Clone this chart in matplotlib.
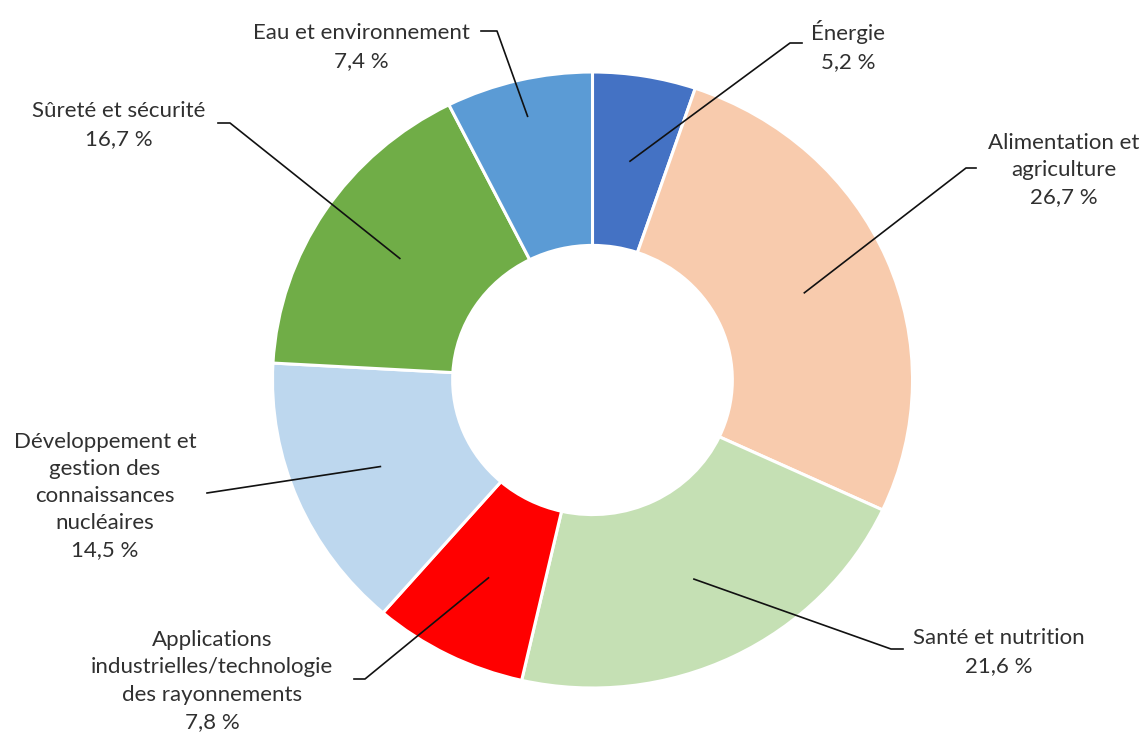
import matplotlib.pyplot as plt
import numpy as np

# données
categories = ["Énergie", "Alimentation et\nagriculture", "Santé et nutrition",
              "Applications\nindustrielles/technologie\ndes rayonnements",
              "Développement et\ngestion des\nconnaissances\nnucléaires",
              "Sûreté et sécurité", "Eau et environnement"]
valeurs = [5.2, 26.7, 21.6, 7.8, 14.5, 16.7, 7.4]
etiquettes_val = ["5,2 %", "26,7 %", "21,6 %", "7,8 %", "14,5 %", "16,7 %", "7,4 %"]
couleurs = ["#4472C4", "#F8CBAD", "#C5E0B4", "#FF0000", "#BDD7EE", "#70AD47", "#5B9BD5"]

# position des étiquettes (pixels), coude de la ligne, fin du trait, rayon d'ancrage
pos_texte = [(848, 46), (1064, 170), (999, 652), (212, 681), (105, 496), (119, 125), (361, 47)]
coude = [(790, 43), (966, 168), (891, 649), (365, 679), (207, 493), (230, 123), (497, 31)]
fin_trait = [(802, 43), (976, 168), (903, 649), (354, 679), (207, 493), (218, 123), (481, 31)]
r_ancre = [0.72, 0.72, 0.72, 0.72, 0.72, 0.72, 0.88]

# l'anneau est un peu aplati verticalement (rx=320, ry=308)
k = 320 / 308
centre = (592.5, 380 * k)
rayon = 320

fig = plt.figure(figsize=(11.46, 7.34), dpi=100)
ax = fig.add_axes([0, 0, 1, 1])

wedges, _ = ax.pie(valeurs, colors=couleurs, startangle=-90, counterclock=True,
                   center=centre, radius=rayon,
                   wedgeprops=dict(width=rayon * 0.563, edgecolor="white", linewidth=2.2))
ax.set_aspect("auto")
ax.set_xlim(0, 1146)
ax.set_ylim(734 * k, 0)
ax.axis("off")

for i, w in enumerate(wedges):
    ang = np.deg2rad((w.theta1 + w.theta2) / 2)
    x0 = centre[0] + r_ancre[i] * rayon * np.cos(ang)
    y0 = centre[1] + r_ancre[i] * rayon * np.sin(ang)
    ax.plot([x0, coude[i][0], fin_trait[i][0]], [y0, coude[i][1] * k, fin_trait[i][1] * k],
            color="#111111", lw=1.2)
    ax.text(pos_texte[i][0], pos_texte[i][1] * k, categories[i] + "\n" + etiquettes_val[i],
            ha="center", va="center", fontsize=16, family="Lato", color="#303030",
            linespacing=1.45)

plt.savefig("out.png", dpi=100)
